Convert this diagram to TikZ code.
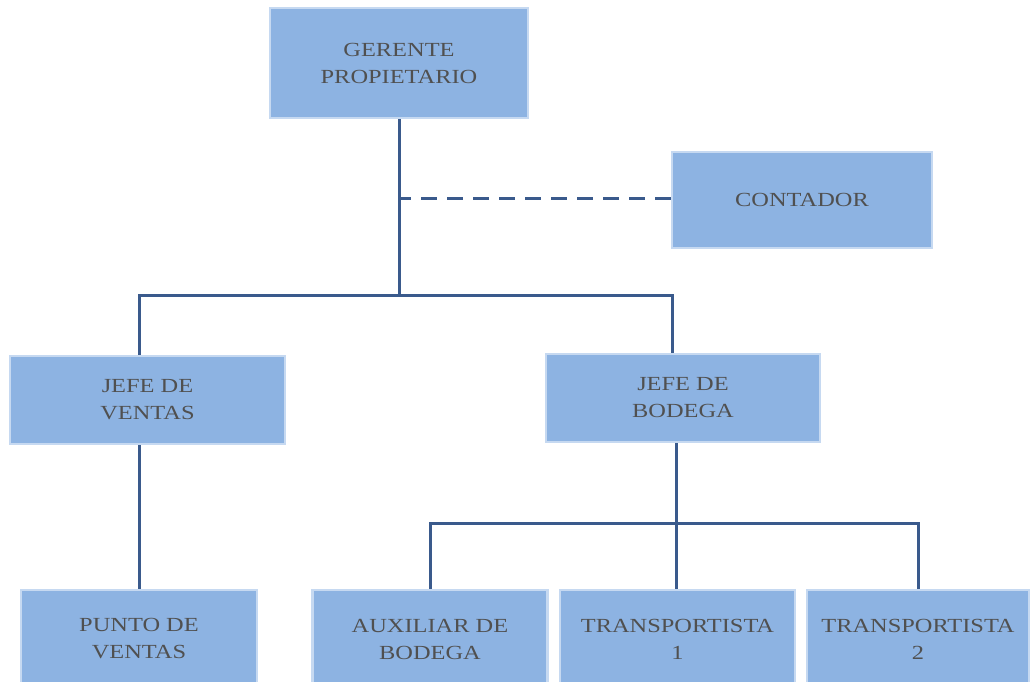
\documentclass[tikz,border=0pt]{standalone}
\usepackage{fontspec}
\setmainfont{Liberation Serif}[FakeStretch=1.22]
\definecolor{boxfill}{HTML}{8DB3E2}
\definecolor{boxedge}{HTML}{C6D9F1}
\definecolor{linec}{HTML}{3A5A8C}
\definecolor{txt}{HTML}{505050}
\begin{document}
\begin{tikzpicture}[x=1pt,y=-1pt,
  box/.style={draw=boxedge, line width=2.5pt, fill=boxfill, text=txt, align=center,
    font=\fontsize{20}{27}\selectfont, inner sep=0pt},
  conn/.style={draw=linec, line width=3pt},
  dconn/.style={conn, dash pattern=on 16pt off 10pt, dash phase=4pt}
]
\useasboundingbox (0,0) rectangle (1033,681);
\node[box, minimum width=258pt, minimum height=110pt] (ger) at (399,63) {GERENTE\\PROPIETARIO};
\node[box, minimum width=260pt, minimum height=96pt] (con) at (802,200) {CONTADOR};
\node[box, minimum width=275pt, minimum height=88pt] (jv) at (147.5,400) {JEFE DE\\VENTAS};
\node[box, minimum width=274pt, minimum height=88pt] (jb) at (683,398) {JEFE DE\\BODEGA};
\node[box, minimum width=236pt, minimum height=98pt] (pv) at (139,639) {PUNTO DE\\VENTAS};
\node[box, minimum width=235pt, minimum height=98pt] (aux) at (430,639) {AUXILIAR DE\\BODEGA};
\node[box, minimum width=235pt, minimum height=98pt] (t1) at (677.5,639) {TRANSPORTISTA\\1};
\node[box, minimum width=222pt, minimum height=98pt] (t2) at (918,639) {TRANSPORTISTA\\2};

\coordinate (b1) at (399,295);
\coordinate (d) at (399,198);
\coordinate (b2) at (676,523);

\draw[conn] (ger.south) -- (b1);
\draw[dconn] (d) -- (d -| con.west);
\draw[conn] ([xshift=-8pt]jv.north) |- (b1) -| ([xshift=-11pt]jb.north);
\draw[conn] (jv.south -| pv.north) -- (pv.north);
\draw[conn] (jb.south -| b2) -- (b2);
\draw[conn] (aux.north) |- (b2) -| (t2.north);
\draw[conn] (b2) -- (b2 |- t1.north);
\end{tikzpicture}
\end{document}
